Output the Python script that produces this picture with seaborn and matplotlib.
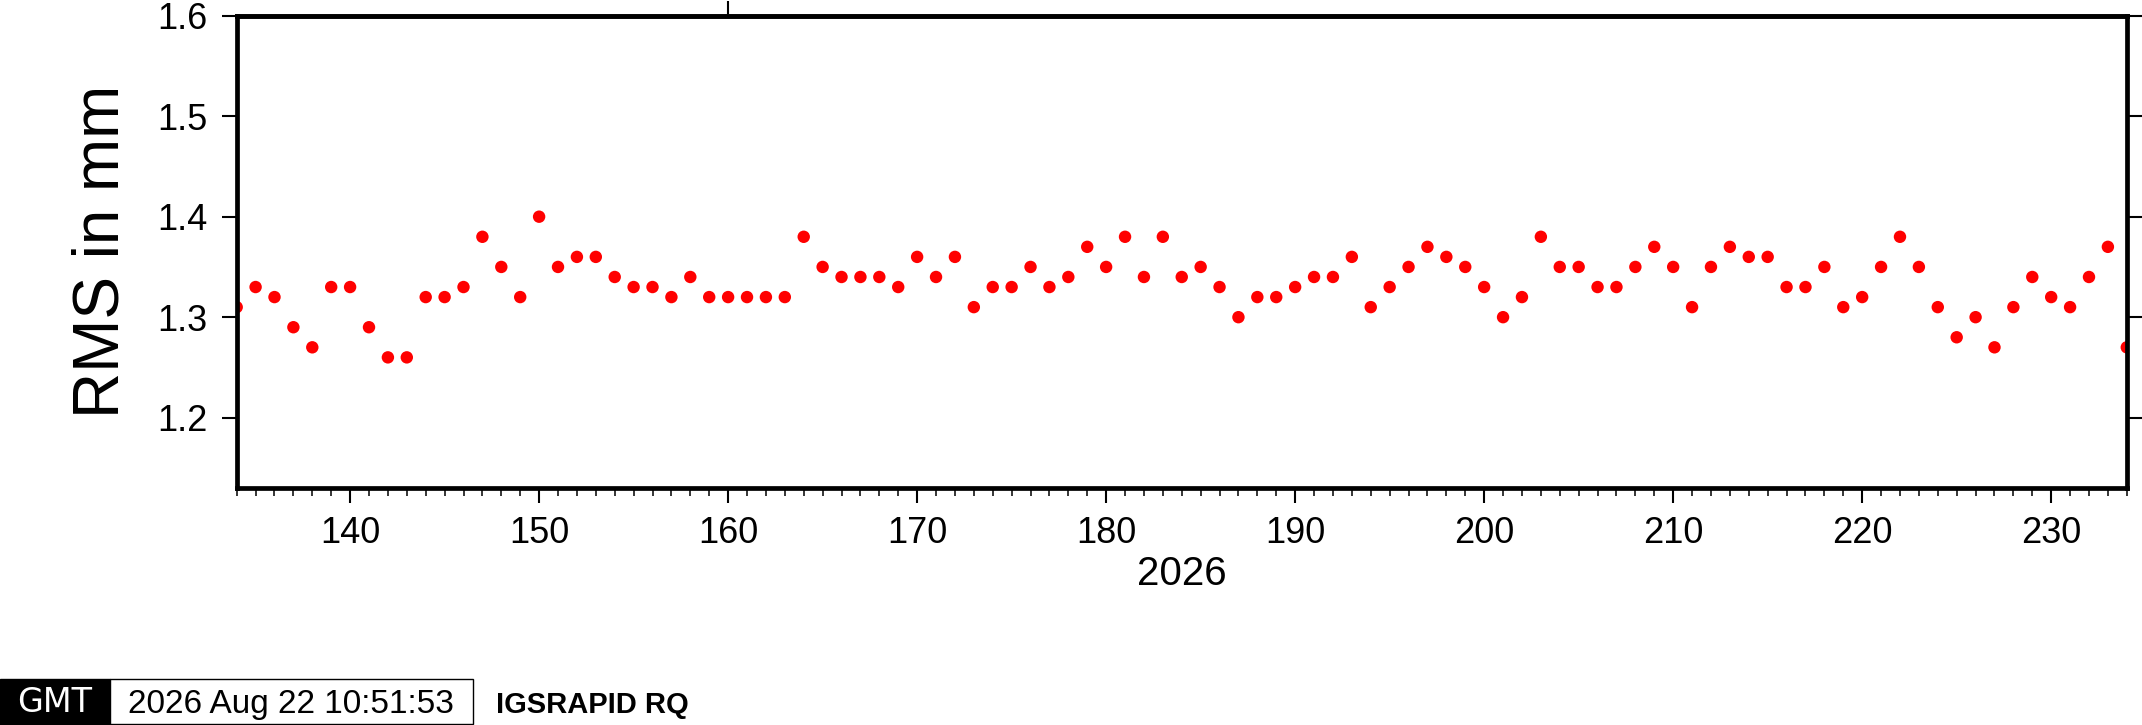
import numpy as np
import pandas as pd
import seaborn as sns
import matplotlib
matplotlib.use('Agg')
import matplotlib.pyplot as plt
from matplotlib.ticker import MultipleLocator
from matplotlib.patches import Rectangle

# day of year 2026
days = list(range(134, 235))
# RMS in mm
rms = [1.31, 1.33, 1.32, 1.29, 1.27, 1.33, 1.33, 1.29, 1.26, 1.26,
       1.32, 1.32, 1.33, 1.38, 1.35, 1.32, 1.40, 1.35, 1.36, 1.36,
       1.34, 1.33, 1.33, 1.32, 1.34, 1.32, 1.32, 1.32, 1.32, 1.32,
       1.38, 1.35, 1.34, 1.34, 1.34, 1.33, 1.36, 1.34, 1.36, 1.31,
       1.33, 1.33, 1.35, 1.33, 1.34, 1.37, 1.35, 1.38, 1.34, 1.38,
       1.34, 1.35, 1.33, 1.30, 1.32, 1.32, 1.33, 1.34, 1.34, 1.36,
       1.31, 1.33, 1.35, 1.37, 1.36, 1.35, 1.33, 1.30, 1.32, 1.38,
       1.35, 1.35, 1.33, 1.33, 1.35, 1.37, 1.35, 1.31, 1.35, 1.37,
       1.36, 1.36, 1.33, 1.33, 1.35, 1.31, 1.32, 1.35, 1.38, 1.35,
       1.31, 1.28, 1.30, 1.27, 1.31, 1.34, 1.32, 1.31, 1.34, 1.37,
       1.27]
yticks = [1.2, 1.3, 1.4, 1.5, 1.6]
year_label = '2026'
stamp = '2026 Aug 22 10:51:53'
tag = 'IGSRAPID RQ'

df = pd.DataFrame({'day': days, 'rms': rms})

sns.set_style('ticks')
plt.rcParams['font.family'] = ['Liberation Sans', 'DejaVu Sans']
plt.rcParams['text.color'] = 'black'
plt.rcParams['axes.labelcolor'] = 'black'
plt.rcParams['xtick.color'] = 'black'
plt.rcParams['ytick.color'] = 'black'

fig = plt.figure(figsize=(21.42, 7.25), dpi=100)
ax = fig.add_axes([0.1105, 0.3269, 0.8824, 0.6514])

sns.scatterplot(data=df, x='day', y='rms', ax=ax, color='#ff0000', s=80,
                edgecolor='none', linewidth=0, legend=False)

ax.set_xlim(134, 234)
ax.set_ylim(1.13, 1.6)
ax.set_yticks(yticks)
ax.set_yticklabels([f'{v:.1f}' for v in yticks])
ax.xaxis.set_major_locator(MultipleLocator(10))
ax.xaxis.set_minor_locator(MultipleLocator(1))

for sp in ax.spines.values():
    sp.set_linewidth(3.4)
    sp.set_color('black')

ax.tick_params(axis='x', which='major', direction='out', length=11, width=1.5,
               labelsize=26, pad=9, top=False, colors='black')
ax.tick_params(axis='x', which='minor', direction='out', length=5.5, width=1.1, top=False,
               colors='black')
ax.tick_params(axis='y', which='major', direction='out', length=11, width=1.5,
               labelsize=26, pad=10, right=True, labelright=False, colors='black')

# single tick on the top frame
sec = ax.secondary_xaxis('top')
sec.set_xticks([160])
sec.set_xticklabels([''])
sec.tick_params(direction='out', length=11, width=1.5, colors='black')
sec.spines['top'].set_linewidth(3.4)

ax.set_ylabel('RMS in mm', fontsize=46, color='black')
ax.yaxis.set_label_coords(-0.0554, 0.5)
ax.set_xlabel(year_label, fontsize=29, color='black')
ax.xaxis.set_label_coords(0.5, -0.142)

# GMT style time stamp at the bottom
fig.patches.append(Rectangle((0, 0), 110 / 2142, 46 / 725, transform=fig.transFigure,
                             facecolor='black', edgecolor='black', figure=fig))
fig.patches.append(Rectangle((110 / 2142, 1 / 725), 363 / 2142, 45 / 725, transform=fig.transFigure,
                             facecolor='white', edgecolor='black', linewidth=1, figure=fig))
fig.text(55 / 2142, 23 / 725, 'GMT', color='white', fontsize=24, ha='center', va='center',
         family=['DejaVu Sans'])
fig.text(128 / 2142, 21 / 725, stamp, fontsize=24, ha='left', va='center', color='black')
fig.text(496 / 2142, 20 / 725, tag, fontsize=21, fontweight='bold', ha='left', va='center',
         color='black')

fig.savefig('out.png', dpi=100)
